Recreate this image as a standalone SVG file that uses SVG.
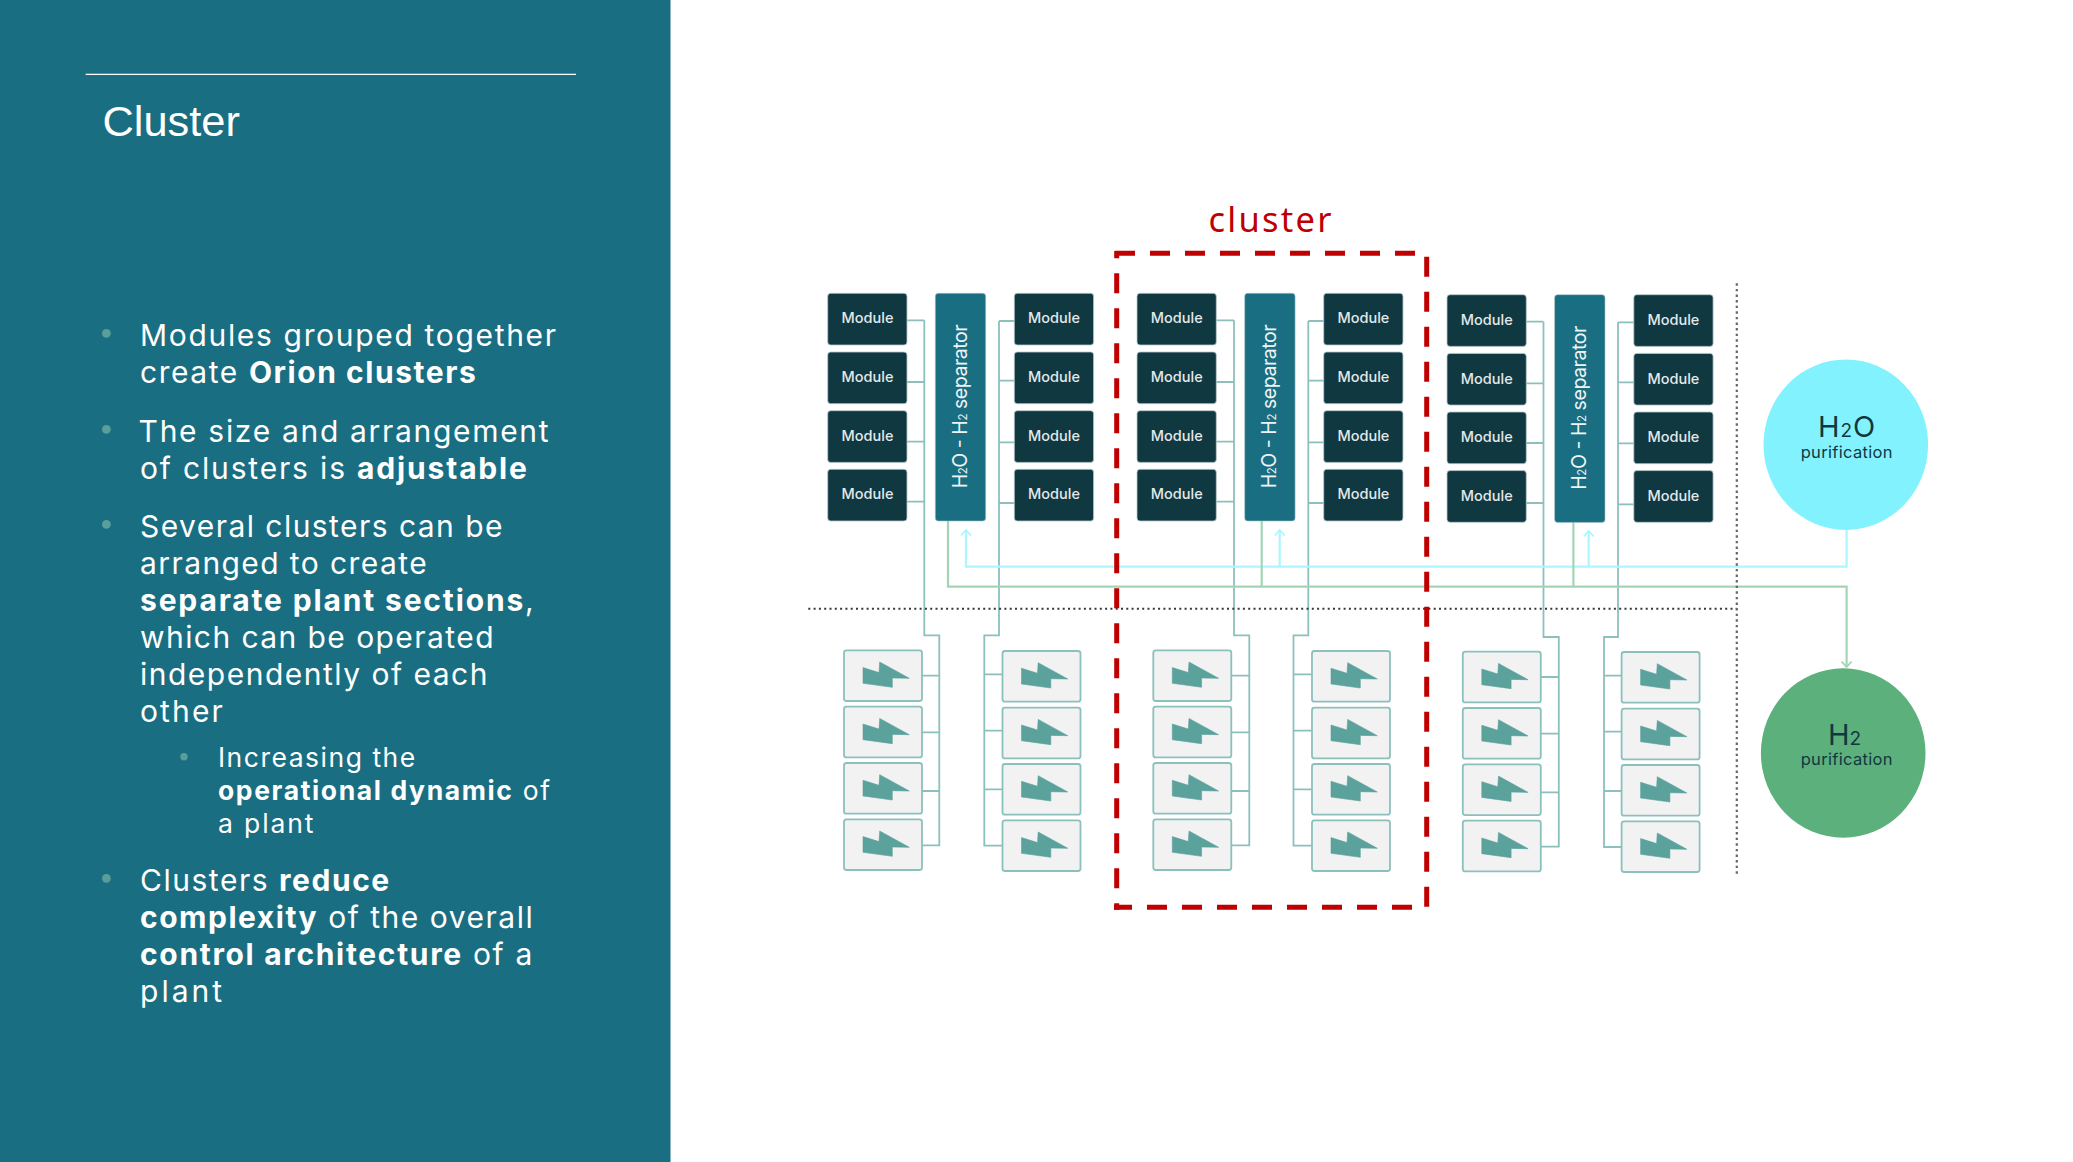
<svg xmlns="http://www.w3.org/2000/svg" width="2073" height="1162" viewBox="0 0 2073 1162">
<style>
.b{font-family:Inter,"Liberation Sans",sans-serif;font-size:30px;fill:#fff}
.s{font-size:26.5px}
.bd{font-weight:700}
.m{fill:#103841;stroke:#b9c9cc;stroke-width:.8}
.mt{font-family:Inter,"Liberation Sans",sans-serif;font-size:14.5px;font-weight:500;fill:#e3e9ea;text-anchor:middle}
.sp{fill:#1a6e82;stroke:#a9c4cb;stroke-width:.6}
.st{font-family:Inter,"Liberation Sans",sans-serif;font-size:19.5px;fill:#eef4f5}
.p{fill:#f2f2f2;stroke:#8cc0bd;stroke-width:1.8}
.c{fill:none;stroke:#8cc0bd;stroke-width:1.8}
.g{fill:none;stroke:#a3d5b5;stroke-width:2.2}
.y{fill:none;stroke:#abf6ff;stroke-width:2.2}
.r{fill:none;stroke:#c00000;stroke-width:5;stroke-dasharray:20 15}
.ct{font-family:Inter,"Liberation Sans",sans-serif;fill:#103841;text-anchor:middle}
</style>
<defs>
<path id="bolt" d="M19 17.3L35 22.3L35.7 11.7L65.3 28L48.3 27.7V37L19 33Z" fill="#5ba19c" stroke="#5ba19c" stroke-width=".6" stroke-linejoin="round"/>
<marker id="ag" markerUnits="userSpaceOnUse" viewBox="-7 -6 8 12" refX="0" refY="0" markerWidth="8" markerHeight="12" orient="auto"><path d="M-5.5 -5L0 0L-5.5 5" fill="none" stroke="#a3d5b5" stroke-width="1.8"/></marker>
<marker id="ac" markerUnits="userSpaceOnUse" viewBox="-7 -6 8 12" refX="0" refY="0" markerWidth="8" markerHeight="12" orient="auto"><path d="M-5.5 -5L0 0L-5.5 5" fill="none" stroke="#abf6ff" stroke-width="1.8"/></marker>
</defs>
<rect width="2073" height="1162" fill="#fff"/>
<g id="side-panel">
<rect width="670.5" height="1162" fill="#1a6e82"/>
<line x1="85.7" y1="74.3" x2="576" y2="74.3" stroke="#fff" stroke-width="1.3"/>
<text x="102.5" y="135.5" font-family="Liberation Sans,sans-serif" font-size="43.4" fill="#fff">Cluster</text>
<g fill="#5a9e9c"><circle cx="106.4" cy="333.3" r="4.4"/><circle cx="106.4" cy="429.3" r="4.4"/><circle cx="106.4" cy="524.3" r="4.4"/><circle cx="184" cy="756.7" r="3.7"/><circle cx="106.4" cy="878.3" r="4.4"/></g>
<text class="b" x="140" y="346" textLength="416">Modules grouped together</text>
<text class="b" x="140" y="383" letter-spacing="1.55">create <tspan class="bd">Orion clusters</tspan></text>
<text class="b" x="138.6" y="442" textLength="410">The size and arrangement</text>
<text class="b" x="140" y="479" letter-spacing="1.83">of clusters is <tspan class="bd">adjustable</tspan></text>
<text class="b" x="140" y="537" textLength="362.5">Several clusters can be</text>
<text class="b" x="140" y="574" textLength="286.7">arranged to create</text>
<text class="b bd" x="140" y="611" letter-spacing="1.84">separate plant sections<tspan font-weight="400">,</tspan></text>
<text class="b" x="140" y="648" textLength="353.5">which can be operated</text>
<text class="b" x="140" y="685" textLength="347.5">independently of each</text>
<text class="b" x="140" y="722" textLength="82.8">other</text>
<text class="b s" x="218" y="767" textLength="197.2">Increasing the</text>
<text class="b s" x="218" y="800" letter-spacing="1.62"><tspan class="bd">operational dynamic</tspan> of</text>
<text class="b s" x="218" y="833" textLength="95.4">a plant</text>
<text class="b" x="140" y="891" letter-spacing="1.53">Clusters <tspan class="bd">reduce</tspan></text>
<text class="b" x="140" y="928" letter-spacing="1.52"><tspan class="bd">complexity</tspan> of the overall</text>
<text class="b" x="140" y="965" letter-spacing="1.67"><tspan class="bd">control architecture</tspan> of a</text>
<text class="b" x="140" y="1002" textLength="82.1">plant</text>
</g>
<g id="connectors">
<path class="c" d="M907 320.3H924.3M907 382H924.3M907 441.7H924.3M907 501.7H924.3M924.3 320.3V635.3H939.3V845.3H922M922 675.7H939.3M922 732.3H939.3M922 791H939.3"/>
<path class="c" d="M1014.3 321H999M1014.3 380.7H999M1014.3 442.3H999M1014.3 503H999M999 321V635.3H984.3V845.7H1002.5M984.3 674.3H1002.5M984.3 730.7H1002.5M984.3 789.3H1002.5"/>
<path class="c" d="M1216.3 320.3H1234M1216.3 382H1234M1216.3 441.7H1234M1216.3 501.7H1234M1234 320.3V635.3H1249.3V845.3H1231.3M1231.3 675.7H1249.3M1231.3 732.3H1249.3M1231.3 791H1249.3"/>
<path class="c" d="M1323.7 321H1308.3M1323.7 380.7H1308.3M1323.7 442.3H1308.3M1323.7 503H1308.3M1308.3 321V635.3H1293.5V845.7H1312M1293.5 674.3H1312M1293.5 730.7H1312M1293.5 789.3H1312"/>
<path class="c" d="M1526.3 321.7H1543.5M1526.3 383.3H1543.5M1526.3 443H1543.5M1526.3 503H1543.5M1543.5 321.7V637H1558.8V846.7H1540.8M1540.8 677H1558.8M1540.8 733.7H1558.8M1540.8 792.3H1558.8"/>
<path class="c" d="M1633.8 322.3H1618M1633.8 382.3H1618M1633.8 443.3H1618M1633.8 504.3H1618M1618 322.3V637H1604V847H1621.6M1604 675.7H1621.6M1604 731.7H1621.6M1604 791H1621.6"/>
<path class="y" d="M1846.6 530V566.7H966V530" marker-end="url(#ac)"/>
<path class="y" d="M1279.7 566.7V530" marker-end="url(#ac)"/>
<path class="y" d="M1588.7 566.7V531" marker-end="url(#ac)"/>
<path class="g" d="M948 521V586.7H1846.6V667" marker-end="url(#ag)"/>
<path class="g" d="M1261.7 521V586.7"/>
<path class="g" d="M1573.4 522V586.7"/>
</g>
<g id="dividers">
<line x1="808.3" y1="608.7" x2="1736.8" y2="608.7" stroke="#2f3a3e" stroke-width="2" stroke-dasharray="2 3.3"/>
<line x1="1736.8" y1="283.3" x2="1736.8" y2="876.7" stroke="#666" stroke-width="2.2" stroke-dasharray="2.4 3.2"/>
</g>
<g id="sep-1"><rect class="sp" x="935.3" y="293.3" width="50.4" height="227.7" rx="3"/><text class="st" transform="translate(967 488.3) rotate(-90)" textLength="164">H<tspan font-size="11.5">2</tspan>O - H<tspan font-size="11.5">2</tspan> separator</text></g>
<g id="sep-2"><rect class="sp" x="1244.7" y="293.3" width="50.4" height="227.7" rx="3"/><text class="st" transform="translate(1276.4 488.3) rotate(-90)" textLength="164">H<tspan font-size="11.5">2</tspan>O - H<tspan font-size="11.5">2</tspan> separator</text></g>
<g id="sep-3"><rect class="sp" x="1554.6" y="294.7" width="50.4" height="227.7" rx="3"/><text class="st" transform="translate(1586.3 489.7) rotate(-90)" textLength="164">H<tspan font-size="11.5">2</tspan>O - H<tspan font-size="11.5">2</tspan> separator</text></g>
<g id="mod-1-l1"><rect class="m" x="827.7" y="293.3" width="79.3" height="51.7" rx="3"/><text class="mt" x="867.5" y="323.4">Module</text></g>
<g id="mod-1-l2"><rect class="m" x="827.7" y="352" width="79.3" height="51.7" rx="3"/><text class="mt" x="867.5" y="382.1">Module</text></g>
<g id="mod-1-l3"><rect class="m" x="827.7" y="410.7" width="79.3" height="51.7" rx="3"/><text class="mt" x="867.5" y="440.8">Module</text></g>
<g id="mod-1-l4"><rect class="m" x="827.7" y="469.3" width="79.3" height="51.7" rx="3"/><text class="mt" x="867.5" y="499.4">Module</text></g>
<g id="mod-1-r1"><rect class="m" x="1014.3" y="293.3" width="79.3" height="51.7" rx="3"/><text class="mt" x="1054" y="323.4">Module</text></g>
<g id="mod-1-r2"><rect class="m" x="1014.3" y="352" width="79.3" height="51.7" rx="3"/><text class="mt" x="1054" y="382.1">Module</text></g>
<g id="mod-1-r3"><rect class="m" x="1014.3" y="410.7" width="79.3" height="51.7" rx="3"/><text class="mt" x="1054" y="440.8">Module</text></g>
<g id="mod-1-r4"><rect class="m" x="1014.3" y="469.3" width="79.3" height="51.7" rx="3"/><text class="mt" x="1054" y="499.4">Module</text></g>
<g id="mod-2-l1"><rect class="m" x="1137" y="293.3" width="79.3" height="51.7" rx="3"/><text class="mt" x="1176.8" y="323.4">Module</text></g>
<g id="mod-2-l2"><rect class="m" x="1137" y="352" width="79.3" height="51.7" rx="3"/><text class="mt" x="1176.8" y="382.1">Module</text></g>
<g id="mod-2-l3"><rect class="m" x="1137" y="410.7" width="79.3" height="51.7" rx="3"/><text class="mt" x="1176.8" y="440.8">Module</text></g>
<g id="mod-2-l4"><rect class="m" x="1137" y="469.3" width="79.3" height="51.7" rx="3"/><text class="mt" x="1176.8" y="499.4">Module</text></g>
<g id="mod-2-r1"><rect class="m" x="1323.7" y="293.3" width="79.3" height="51.7" rx="3"/><text class="mt" x="1363.4" y="323.4">Module</text></g>
<g id="mod-2-r2"><rect class="m" x="1323.7" y="352" width="79.3" height="51.7" rx="3"/><text class="mt" x="1363.4" y="382.1">Module</text></g>
<g id="mod-2-r3"><rect class="m" x="1323.7" y="410.7" width="79.3" height="51.7" rx="3"/><text class="mt" x="1363.4" y="440.8">Module</text></g>
<g id="mod-2-r4"><rect class="m" x="1323.7" y="469.3" width="79.3" height="51.7" rx="3"/><text class="mt" x="1363.4" y="499.4">Module</text></g>
<g id="mod-3-l1"><rect class="m" x="1447" y="294.7" width="79.3" height="51.7" rx="3"/><text class="mt" x="1486.8" y="324.8">Module</text></g>
<g id="mod-3-l2"><rect class="m" x="1447" y="353.4" width="79.3" height="51.7" rx="3"/><text class="mt" x="1486.8" y="383.5">Module</text></g>
<g id="mod-3-l3"><rect class="m" x="1447" y="412" width="79.3" height="51.7" rx="3"/><text class="mt" x="1486.8" y="442.1">Module</text></g>
<g id="mod-3-l4"><rect class="m" x="1447" y="470.6" width="79.3" height="51.7" rx="3"/><text class="mt" x="1486.8" y="500.7">Module</text></g>
<g id="mod-3-r1"><rect class="m" x="1633.8" y="294.7" width="79.3" height="51.7" rx="3"/><text class="mt" x="1673.4" y="324.8">Module</text></g>
<g id="mod-3-r2"><rect class="m" x="1633.8" y="353.4" width="79.3" height="51.7" rx="3"/><text class="mt" x="1673.4" y="383.5">Module</text></g>
<g id="mod-3-r3"><rect class="m" x="1633.8" y="412" width="79.3" height="51.7" rx="3"/><text class="mt" x="1673.4" y="442.1">Module</text></g>
<g id="mod-3-r4"><rect class="m" x="1633.8" y="470.6" width="79.3" height="51.7" rx="3"/><text class="mt" x="1673.4" y="500.7">Module</text></g>
<g id="pv-1-l1"><rect class="p" x="844" y="650.3" width="78" height="50.7" rx="2.5"/><use href="#bolt" x="844" y="650.3"/></g>
<g id="pv-1-l2"><rect class="p" x="844" y="706.7" width="78" height="50.7" rx="2.5"/><use href="#bolt" x="844" y="706.7"/></g>
<g id="pv-1-l3"><rect class="p" x="844" y="763" width="78" height="50.7" rx="2.5"/><use href="#bolt" x="844" y="763"/></g>
<g id="pv-1-l4"><rect class="p" x="844" y="819.3" width="78" height="50.7" rx="2.5"/><use href="#bolt" x="844" y="819.3"/></g>
<g id="pv-1-r1"><rect class="p" x="1002.5" y="651" width="78" height="50.7" rx="2.5"/><use href="#bolt" x="1002.5" y="651"/></g>
<g id="pv-1-r2"><rect class="p" x="1002.5" y="707.7" width="78" height="50.7" rx="2.5"/><use href="#bolt" x="1002.5" y="707.7"/></g>
<g id="pv-1-r3"><rect class="p" x="1002.5" y="764" width="78" height="50.7" rx="2.5"/><use href="#bolt" x="1002.5" y="764"/></g>
<g id="pv-1-r4"><rect class="p" x="1002.5" y="820.3" width="78" height="50.7" rx="2.5"/><use href="#bolt" x="1002.5" y="820.3"/></g>
<g id="pv-2-l1"><rect class="p" x="1153.3" y="650.3" width="78" height="50.7" rx="2.5"/><use href="#bolt" x="1153.3" y="650.3"/></g>
<g id="pv-2-l2"><rect class="p" x="1153.3" y="706.7" width="78" height="50.7" rx="2.5"/><use href="#bolt" x="1153.3" y="706.7"/></g>
<g id="pv-2-l3"><rect class="p" x="1153.3" y="763" width="78" height="50.7" rx="2.5"/><use href="#bolt" x="1153.3" y="763"/></g>
<g id="pv-2-l4"><rect class="p" x="1153.3" y="819.3" width="78" height="50.7" rx="2.5"/><use href="#bolt" x="1153.3" y="819.3"/></g>
<g id="pv-2-r1"><rect class="p" x="1312" y="651" width="78" height="50.7" rx="2.5"/><use href="#bolt" x="1312" y="651"/></g>
<g id="pv-2-r2"><rect class="p" x="1312" y="707.7" width="78" height="50.7" rx="2.5"/><use href="#bolt" x="1312" y="707.7"/></g>
<g id="pv-2-r3"><rect class="p" x="1312" y="764" width="78" height="50.7" rx="2.5"/><use href="#bolt" x="1312" y="764"/></g>
<g id="pv-2-r4"><rect class="p" x="1312" y="820.3" width="78" height="50.7" rx="2.5"/><use href="#bolt" x="1312" y="820.3"/></g>
<g id="pv-3-l1"><rect class="p" x="1462.8" y="651.7" width="78" height="50.7" rx="2.5"/><use href="#bolt" x="1462.8" y="651.7"/></g>
<g id="pv-3-l2"><rect class="p" x="1462.8" y="708" width="78" height="50.7" rx="2.5"/><use href="#bolt" x="1462.8" y="708"/></g>
<g id="pv-3-l3"><rect class="p" x="1462.8" y="764.4" width="78" height="50.7" rx="2.5"/><use href="#bolt" x="1462.8" y="764.4"/></g>
<g id="pv-3-l4"><rect class="p" x="1462.8" y="820.7" width="78" height="50.7" rx="2.5"/><use href="#bolt" x="1462.8" y="820.7"/></g>
<g id="pv-3-r1"><rect class="p" x="1621.6" y="652" width="78" height="50.7" rx="2.5"/><use href="#bolt" x="1621.6" y="652"/></g>
<g id="pv-3-r2"><rect class="p" x="1621.6" y="708.7" width="78" height="50.7" rx="2.5"/><use href="#bolt" x="1621.6" y="708.7"/></g>
<g id="pv-3-r3"><rect class="p" x="1621.6" y="765" width="78" height="50.7" rx="2.5"/><use href="#bolt" x="1621.6" y="765"/></g>
<g id="pv-3-r4"><rect class="p" x="1621.6" y="821.3" width="78" height="50.7" rx="2.5"/><use href="#bolt" x="1621.6" y="821.3"/></g>
<g id="h2o-purification"><ellipse cx="1845.8" cy="444.7" rx="82.3" ry="85.3" fill="#83f2ff"/>
<text class="ct" x="1846.6" y="436.7" font-size="29" textLength="57">H<tspan font-size="19">2</tspan>O</text>
<text class="ct" x="1846.6" y="457.7" font-size="16.5" textLength="91.8">purification</text></g>
<g id="h2-purification"><ellipse cx="1843.2" cy="753" rx="82.3" ry="84.7" fill="#5bb07c"/>
<text class="ct" x="1844.5" y="745" font-size="29">H<tspan font-size="19">2</tspan></text>
<text class="ct" x="1846.6" y="765" font-size="16.5" textLength="91.8">purification</text></g>
<g id="cluster-frame">
<path class="r" d="M1115 253.3H1415"/>
<path class="r" d="M1426.7 256.7V906.7"/>
<path class="r" d="M1412 907.3H1114"/>
<path class="r" stroke-dashoffset="13.5" d="M1116.7 909.8V251"/>
<text x="1208.5" y="231.7" font-family="Noto Sans,sans-serif" font-size="34.5" fill="#c00000" textLength="123">cluster</text>
</g>
</svg>
